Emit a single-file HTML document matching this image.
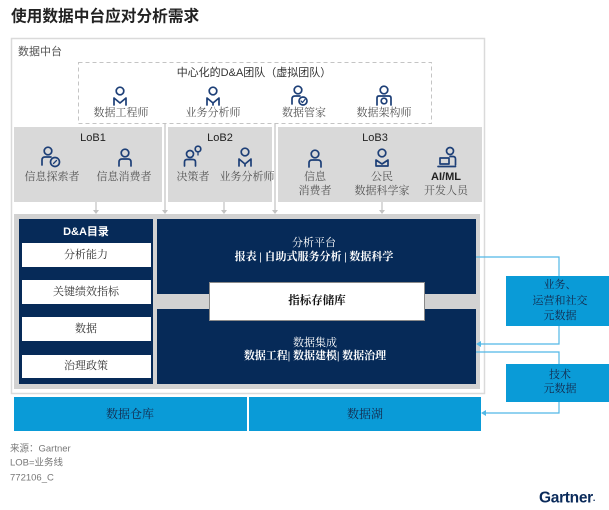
<!DOCTYPE html>
<html><head><meta charset="utf-8">
<style>
html,body{margin:0;padding:0;background:#fff;}
svg{display:block;}
text{font-family:"Liberation Sans","Noto Sans CJK SC",sans-serif;}
.s{font-family:"Liberation Serif","Noto Serif CJK SC",serif;}
.ic{fill:none;stroke:#1d3f77;stroke-width:1.7;stroke-linejoin:round;stroke-linecap:round;}
</style></head>
<body>
<svg width="609" height="510" viewBox="0 0 609 510" xmlns="http://www.w3.org/2000/svg">
<!-- title -->
<text x="11" y="17" font-size="15.7" font-weight="bold" fill="#222" dominant-baseline="central">使用数据中台应对分析需求</text>

<!-- outer box -->
<rect x="11.5" y="38.5" width="473" height="355" fill="#fff" stroke="#dadada" stroke-width="1.5"/>
<text x="18" y="52" font-size="11" fill="#555" dominant-baseline="central">数据中台</text>

<!-- dashed central team -->
<rect x="78.5" y="62.5" width="353" height="61" fill="none" stroke="#c4c4c4" stroke-dasharray="4 3"/>
<text x="254" y="73" font-size="11" fill="#333" text-anchor="middle" dominant-baseline="central">中心化的D&amp;A团队（虚拟团队）</text>

<!-- gray connectors -->
<g stroke="#c2c2c2" stroke-width="1.2">
<line x1="165" y1="123" x2="165" y2="211"/>
<line x1="275" y1="123" x2="275" y2="211"/>
<line x1="96" y1="202" x2="96" y2="211"/>
<line x1="224" y1="202" x2="224" y2="211"/>
<line x1="382" y1="202" x2="382" y2="211"/>
</g>
<g fill="#c2c2c2">
<polygon points="162,210 168,210 165,214"/>
<polygon points="272,210 278,210 275,214"/>
<polygon points="93,210 99,210 96,214"/>
<polygon points="221,210 227,210 224,214"/>
<polygon points="379,210 385,210 382,214"/>
</g>

<!-- LoB boxes -->
<rect x="14" y="127" width="148" height="75" fill="#d9d9d9"/>
<rect x="168" y="127" width="104" height="75" fill="#d9d9d9"/>
<rect x="278" y="127" width="204" height="75" fill="#d9d9d9"/>

<!-- top icons -->
<g class="ic">
 <!-- 数据工程师 -->
 <g transform="translate(120,91)">
  <circle cx="0" cy="0" r="3.8"/>
  <path d="M-6,14 V7 L0,12 L6,7 V14"/>
 </g>
 <!-- 业务分析师 -->
 <g transform="translate(213,91)">
  <circle cx="0" cy="0" r="3.8"/>
  <path d="M-6,14 V7 L0,12 L6,7 V14 M0,12 V14"/>
 </g>
 <!-- 数据管家 -->
 <g transform="translate(298,90)">
  <circle cx="0" cy="0" r="3.8"/>
  <path d="M-6,14 V9 Q-6,6 -3,6 H2"/>
  <circle cx="5" cy="11" r="4"/>
  <path d="M3,11 L4.5,12.5 L7,9.5" stroke-width="1.3"/>
 </g>
 <!-- 数据架构师 -->
 <g transform="translate(384,90)">
  <circle cx="0" cy="0" r="3.8"/>
  <path d="M-7,15 V8 Q-7,6 -5,6 H5 Q7,6 7,8 V15"/>
  <circle cx="0" cy="11" r="2.8"/>
 </g>
 <!-- 信息探索者 -->
 <g transform="translate(48,151)">
  <circle cx="0" cy="0" r="3.8"/>
  <path d="M-6,14 V9 Q-6,6 -3,6 H3"/>
  <circle cx="7" cy="11" r="4.5"/>
  <path d="M5.5,12.5 L8.5,9.5" stroke-width="1.3"/>
 </g>
 <!-- 信息消费者 -->
 <g transform="translate(125,153)">
  <circle cx="0" cy="0" r="3.8"/>
  <path d="M-6,13 V9 Q-6,6 -3,6 H3 Q6,6 6,9 V13"/>
 </g>
 <!-- 决策者 -->
 <g transform="translate(190,154)">
  <circle cx="0" cy="0" r="3.5"/>
  <path d="M-5.5,12 V8 Q-5.5,5.5 -3,5.5 H3 Q5.5,5.5 5.5,8 V12"/>
  <circle cx="8" cy="-5" r="2.8"/>
  <path d="M8,-2 V1" stroke-width="1.3"/>
 </g>
 <!-- 业务分析师 LoB2 -->
 <g transform="translate(245,152)">
  <circle cx="0" cy="0" r="3.8"/>
  <path d="M-6,14 V7 L0,12 L6,7 V14 M0,12 V14"/>
 </g>
 <!-- LoB3 信息消费者 -->
 <g transform="translate(315,154)">
  <circle cx="0" cy="0" r="3.8"/>
  <path d="M-6,13 V9 Q-6,6 -3,6 H3 Q6,6 6,9 V13"/>
 </g>
 <!-- 公民数据科学家 -->
 <g transform="translate(382,153)">
  <circle cx="0" cy="0" r="3.8"/>
  <path d="M-6,13 V7 L0,11 L6,7 V13 H-6"/>
 </g>
 <!-- AI/ML -->
 <g transform="translate(450,151)">
  <circle cx="0" cy="0" r="3.5"/>
  <path d="M0,5.5 H3 Q5.5,5.5 5.5,8 V14"/>
  <path d="M-10,7 H-1 V13 H-10 Z"/>
  <path d="M-12,15.5 H5.5"/>
 </g>
</g>

<!-- top labels -->
<g font-size="11" fill="#555" text-anchor="middle" dominant-baseline="central" class="s">
<text class="s" x="121" y="113">数据工程师</text>
<text class="s" x="213" y="113">业务分析师</text>
<text class="s" x="304" y="113">数据管家</text>
<text class="s" x="384" y="113">数据架构师</text>
<text class="s" x="52" y="177">信息探索者</text>
<text class="s" x="124" y="177">信息消费者</text>
<text class="s" x="193" y="177">决策者</text>
<text class="s" x="247" y="177">业务分析师</text>
<text class="s" x="315" y="177">信息</text>
<text class="s" x="315" y="191">消费者</text>
<text class="s" x="382" y="177">公民</text>
<text class="s" x="382" y="191">数据科学家</text>
<text class="s" x="446" y="191">开发人员</text>
</g>
<g font-size="11" fill="#222" text-anchor="middle" dominant-baseline="central">
<text x="93" y="138">LoB1</text>
<text x="220" y="138">LoB2</text>
<text x="375" y="138">LoB3</text>
<text x="446" y="177" font-weight="bold">AI/ML</text>
</g>

<!-- inner gray area -->
<rect x="14" y="214" width="466" height="175" fill="#d2d2d2"/>

<!-- D&A catalog -->
<rect x="19" y="219" width="134" height="165" fill="#062a58"/>
<text x="86" y="232" font-size="11" font-weight="bold" fill="#fff" text-anchor="middle" dominant-baseline="central">D&amp;A目录</text>
<g fill="#fff">
<rect x="22" y="243" width="129" height="24"/>
<rect x="22" y="280" width="129" height="24"/>
<rect x="22" y="317" width="129" height="24"/>
<rect x="22" y="355" width="129" height="23"/>
</g>
<g font-size="11" fill="#333" text-anchor="middle" dominant-baseline="central">
<text class="s" x="86" y="255">分析能力</text>
<text class="s" x="86" y="292">关键绩效指标</text>
<text class="s" x="86" y="329">数据</text>
<text class="s" x="86" y="366">治理政策</text>
</g>

<!-- analytics platform -->
<rect x="157" y="219" width="319" height="75" fill="#062a58"/>
<rect x="157" y="309" width="319" height="75" fill="#062a58"/>
<rect x="209.5" y="282.5" width="215" height="38" fill="#fff" stroke="#8a8a8a"/>
<g font-size="11" fill="#fff" text-anchor="middle" dominant-baseline="central">
<text class="s" x="314" y="243">分析平台</text>
<text class="s" x="314" y="257" font-weight="bold">报表 | 自助式服务分析 | 数据科学</text>
<text class="s" x="315" y="343">数据集成</text>
<text class="s" x="315" y="356" font-weight="bold">数据工程| 数据建模| 数据治理</text>
</g>
<text class="s" x="317" y="301" font-size="11.5" font-weight="bold" fill="#111" text-anchor="middle" dominant-baseline="central">指标存储库</text>

<!-- bottom storage -->
<rect x="14" y="397" width="233" height="34" fill="#0a9bd7"/>
<rect x="249" y="397" width="232" height="34" fill="#0a9bd7"/>
<g font-size="12" fill="#14284a" text-anchor="middle" dominant-baseline="central">
<text class="s" x="130" y="414">数据仓库</text>
<text class="s" x="365" y="414">数据湖</text>
</g>

<!-- right metadata boxes -->
<rect x="506" y="276" width="103" height="50" fill="#0a9bd7"/>
<rect x="506" y="364" width="103" height="38" fill="#0a9bd7"/>
<g font-size="11" fill="#14284a" text-anchor="middle" dominant-baseline="central">
<text class="s" x="560" y="285">业务、</text>
<text class="s" x="560" y="301">运营和社交</text>
<text class="s" x="560" y="316">元数据</text>
<text class="s" x="560" y="375">技术</text>
<text class="s" x="560" y="389">元数据</text>
</g>

<!-- blue connectors -->
<g fill="none" stroke="#52b8e6" stroke-width="1.2">
<path d="M476,257 H559 V276"/>
<path d="M559,326 V344 H479"/>
<path d="M476,352 H559 V364"/>
<path d="M559,402 V413 H484"/>
</g>
<g fill="#52b8e6">
<polygon points="476,344 481,341 481,347"/>
<polygon points="481,413 486,410 486,416"/>
</g>

<!-- footer -->
<g font-size="9.5" fill="#777" dominant-baseline="central">
<text x="10" y="449">来源：Gartner</text>
<text x="10" y="463">LOB=业务线</text>
<text x="10" y="478">772106_C</text>
</g>
<text x="539" y="498" font-size="15.5" font-weight="bold" fill="#0a2a5a" dominant-baseline="central" letter-spacing="-0.3">Gartner<tspan font-size="9">.</tspan></text>
</svg>
</body></html>
